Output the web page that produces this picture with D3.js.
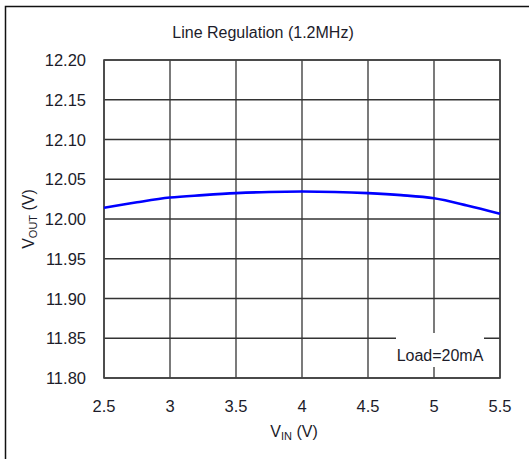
<!DOCTYPE html>
<html>
<head>
<meta charset="utf-8">
<script src="https://cdn.jsdelivr.net/npm/d3@7"></script>
<style>
  body { margin: 0; background: #fff; }
  svg { display: block; font-family: "Liberation Sans", Arial, sans-serif; }
</style>
</head>
<body>
<svg width="529" height="459"></svg>
<script>
(function() {
  'use strict';
  var svg = d3.select("svg");

  // data
  var vin  = [2.5, 2.75, 3, 3.25, 3.5, 3.75, 4, 4.25, 4.5, 4.75, 5, 5.25, 5.5];
  var vout = [12.014, 12.021, 12.027, 12.030, 12.0325, 12.034, 12.0345, 12.034, 12.0325, 12.030, 12.026, 12.017, 12.0065];
  var xTicks = [2.5, 3, 3.5, 4, 4.5, 5, 5.5];
  var yTicks = [11.80, 11.85, 11.90, 11.95, 12.00, 12.05, 12.10, 12.15, 12.20];

  var left = 104, right = 500, top = 60, bottom = 378;
  var ink = "#1c1c2a";

  var x = d3.scaleLinear().domain([2.5, 5.5]).range([left, right]);
  var y = d3.scaleLinear().domain([11.80, 12.20]).range([bottom, top]);

  // outer frame
  svg.append("rect")
    .attr("x", 5.5).attr("y", 6.5)
    .attr("width", 600).attr("height", 600)
    .attr("fill", "none").attr("stroke", "#111").attr("stroke-width", 1.5);

  svg.append("text")
    .attr("x", 263).attr("y", 38)
    .attr("text-anchor", "middle")
    .attr("font-size", 16)
    .attr("fill", ink)
    .text("Line Regulation (1.2MHz)");

  var grid = svg.append("g").attr("stroke", "#333").attr("stroke-width", 1.3);

  grid.selectAll(".vx")
    .data(xTicks)
    .enter().append("line")
      .attr("x1", function(d) { return x(d); })
      .attr("x2", function(d) { return x(d); })
      .attr("y1", top).attr("y2", bottom);

  grid.selectAll(".hy")
    .data(yTicks)
    .enter().append("line")
      .attr("y1", function(d) { return y(d); })
      .attr("y2", function(d) { return y(d); })
      .attr("x1", left).attr("x2", right);

  svg.append("rect")
    .attr("x", left).attr("y", top)
    .attr("width", right - left).attr("height", bottom - top)
    .attr("fill", "none").attr("stroke", "#444").attr("stroke-width", 1.6);

  // y labels
  svg.append("g").selectAll("text")
    .data(yTicks)
    .enter().append("text")
      .attr("x", 86)
      .attr("y", function(d) { return y(d) + 6; })
      .attr("text-anchor", "end")
      .attr("font-size", 16.5)
      .attr("fill", ink)
      .text(function(d) { return d.toFixed(2); });

  // x labels
  svg.append("g").selectAll("text")
    .data(xTicks)
    .enter().append("text")
      .attr("x", function(d) { return x(d); })
      .attr("y", 412)
      .attr("text-anchor", "middle")
      .attr("font-size", 16.5)
      .attr("fill", ink)
      .text(function(d) { return d; });

  // axis titles
  var xl = svg.append("text")
    .attr("x", 294).attr("y", 437)
    .attr("text-anchor", "middle")
    .attr("font-size", 16)
    .attr("fill", ink);
  xl.append("tspan").text("V");
  xl.append("tspan").attr("font-size", 11).attr("dy", 3).text("IN");
  xl.append("tspan").attr("dy", -3).text(" (V)");

  var yl = svg.append("text")
    .attr("transform", "translate(34,219) rotate(-90)")
    .attr("text-anchor", "middle")
    .attr("font-size", 16)
    .attr("fill", ink);
  yl.append("tspan").text("V");
  yl.append("tspan").attr("font-size", 11).attr("dy", 3).text("OUT");
  yl.append("tspan").attr("dy", -3).text(" (V)");

  // curve
  svg.append("path")
    .datum(d3.zip(vin, vout))
    .attr("fill", "none")
    .attr("stroke", "#0000ff")
    .attr("stroke-width", 2.6)
    .attr("d", d3.line()
      .x(function(d) { return x(d[0]); })
      .y(function(d) { return y(d[1]); })
      .curve(d3.curveMonotoneX));

  // legend box
  svg.append("rect")
    .attr("x", 396).attr("y", 333)
    .attr("width", 88).attr("height", 34)
    .attr("fill", "#fff");
  svg.append("text")
    .attr("x", 440).attr("y", 361)
    .attr("text-anchor", "middle")
    .attr("font-size", 16)
    .attr("fill", ink)
    .text("Load=20mA");
}());
</script>
</body>
</html>
